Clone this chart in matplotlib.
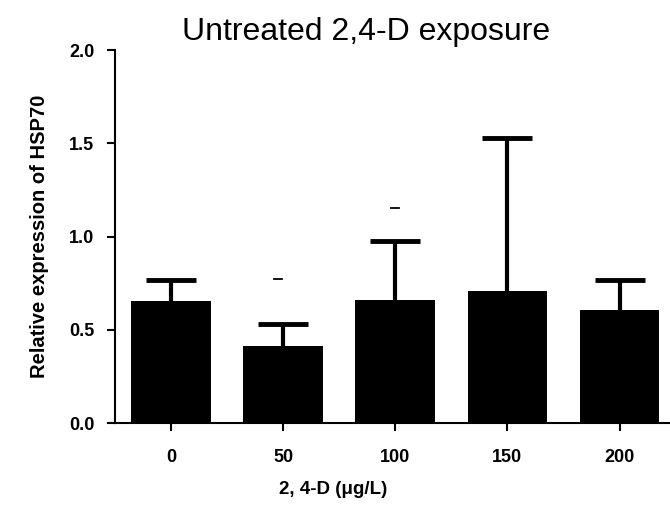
import matplotlib
matplotlib.use("Agg")
import matplotlib.pyplot as plt

plt.rcParams["font.family"] = ["Liberation Sans", "DejaVu Sans"]

CATEGORIES = ["0", "50", "100", "150", "200"]
MEANS = [0.656, 0.414, 0.660, 0.709, 0.606]
ERR_UPPER = [0.765, 0.531, 0.976, 1.530, 0.765]
# small stray dash marks seen above two bars
DASH_X = [0.953, 2.0]
DASH_Y = [0.774, 1.151]
Y_TICKS = [0.0, 0.5, 1.0, 1.5, 2.0]

fig = plt.figure(figsize=(6.70, 5.14), dpi=100)
ax = fig.add_axes([0.1716, 0.177, 0.8284, 0.7257])

x = list(range(len(CATEGORIES)))
errs = [u - m for u, m in zip(ERR_UPPER, MEANS)]
ax.bar(x, MEANS, width=0.71, color="black", zorder=2)
_, caps, _ = ax.errorbar(x, MEANS, yerr=[[0] * len(errs), errs], fmt="none",
                         ecolor="black", elinewidth=3, capsize=18, capthick=3.5,
                         zorder=1)
# only keep the upper caps
caps[0].set_visible(False)

for dx, dy in zip(DASH_X, DASH_Y):
    ax.plot([dx - 0.035, dx + 0.035], [dy, dy], color="black", lw=1.3)

ax.set_xlim(-0.5, 4.45)
ax.set_ylim(0, 2.0)
ax.set_xticks(x)
ax.set_xticklabels(CATEGORIES, fontsize=13, fontweight="bold")
ax.set_yticks(Y_TICKS)
ax.set_yticklabels([f"{t:.1f}" for t in Y_TICKS], fontsize=13, fontweight="bold")

for side in ("top", "right"):
    ax.spines[side].set_visible(False)
for side in ("left", "bottom"):
    ax.spines[side].set_linewidth(1.5)
ax.tick_params(axis="both", width=1.5, length=6, pad=9)
ax.tick_params(axis="x", pad=13)

ax.set_ylabel("Relative expression of HSP70", fontsize=14.5, fontweight="bold", labelpad=14)
fig.text(366 / 670, 1 - 32 / 514, "Untreated 2,4-D exposure", fontsize=23,
         ha="center", va="center")
fig.text(333 / 670, 1 - 490 / 514, "2, 4-D (μg/L)", fontsize=13.5, fontweight="bold",
         ha="center", va="center")

fig.savefig("out.png", dpi=100)
